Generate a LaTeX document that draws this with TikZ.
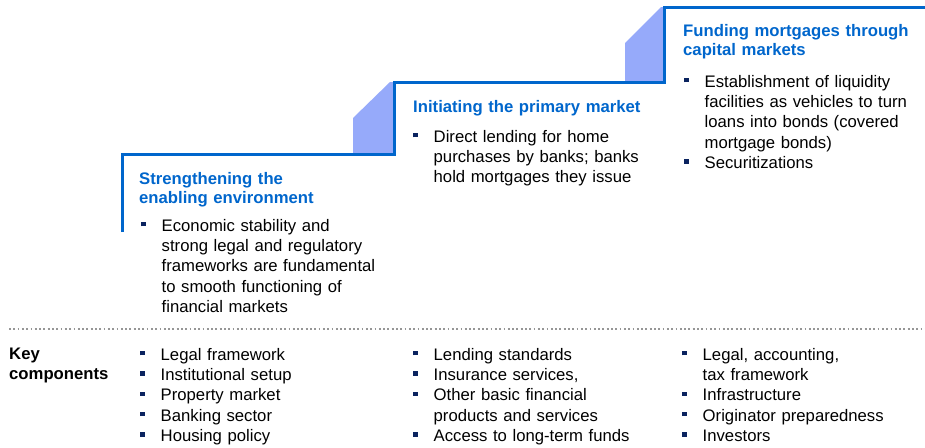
\documentclass[tikz,border=0pt]{standalone}
\usepackage{fontspec}
\setmainfont{Liberation Sans}
\usetikzlibrary{positioning}
\definecolor{stepblue}{RGB}{0,102,204}
\definecolor{riserfill}{RGB}{150,170,250}
\definecolor{bulletnavy}{RGB}{10,35,95}
\definecolor{dotgray}{RGB}{150,150,150}
\newcommand{\blist}{\setlength{\leftskip}{20.5pt}}
\newcommand{\bpt}{\leavevmode\hspace*{-20.5pt}%
  \makebox[20.5pt][l]{\textcolor{bulletnavy}{\rule[5pt]{4.4pt}{4.4pt}}}\ignorespaces}

\begin{document}
\begin{tikzpicture}[x=1pt, y=-1pt,
  steptitle/.style={anchor=north west, inner sep=0pt, text width=250pt, align=left,
                    text=stepblue, font=\fontsize{16.7}{19.5}\selectfont\bfseries},
  stepbody/.style={anchor=north west, inner sep=0pt, text width=260pt, align=left,
                   font=\fontsize{16.7}{20.3}\selectfont},
  stepline/.style={stepblue, line width=3pt},
  riser/.style={fill=riserfill}
]
  \useasboundingbox (0,0) rectangle (925,447);

  %% -- Risers and staircase
  \fill[riser] (353,154.5) -- (353,118) -- (390,82) -- (394,82) -- (394,154.5) -- cycle;
  \fill[riser] (625,82) -- (625,43) -- (661,7) -- (664,7) -- (664,82) -- cycle;
  \draw[stepline] (122,232) |- (394,154.5) |- (664,82) |- (925,7);

  %% -- Step 1
  \node[steptitle] (title1) at (139,172) {Strengthening the\\enabling environment};
  \node[stepbody]  (body1)  at (141,219) {\blist\bpt Economic stability and\\strong legal and regulatory\\frameworks are fundamental\\to smooth functioning of\\financial markets\par};

  %% -- Step 2
  \node[steptitle] (title2) at (413,100) {Initiating the primary market};
  \node[stepbody]  (body2)  at (413,130) {\blist\bpt Direct lending for home\\purchases by banks; banks\\hold mortgages they issue\par};

  %% -- Step 3
  \node[steptitle] (title3) at (683,24) {Funding mortgages through\\capital markets};
  \node[stepbody]  (body3)  at (684,75) {\blist\bpt Establishment of liquidity\\facilities as vehicles to turn\\loans into bonds (covered\\mortgage bonds)\\\bpt Securitizations\par};

  %% -- Separator
  \draw[dotgray, line width=1.8pt, dash pattern=on 1.8pt off 2.5pt] (9,329) -- (925,329);

  %% -- Key components
  \node[stepbody, text width=120pt, font=\fontsize{16.7}{20.3}\selectfont\bfseries] (key) at (9,348) {Key\\components};
  \node[stepbody] (keys1) at (140,348) {\blist\bpt Legal framework\\\bpt Institutional setup\\\bpt Property market\\\bpt Banking sector\\\bpt Housing policy\par};
  \node[stepbody] (keys2) at (413,348) {\blist\bpt Lending standards\\\bpt Insurance services,\\\bpt Other basic financial\\products and services\\\bpt Access to long-term funds\par};
  \node[stepbody] (keys3) at (682,348) {\blist\bpt Legal, accounting,\\tax framework\\\bpt Infrastructure\\\bpt Originator preparedness\\\bpt Investors\par};

\end{tikzpicture}
\end{document}
